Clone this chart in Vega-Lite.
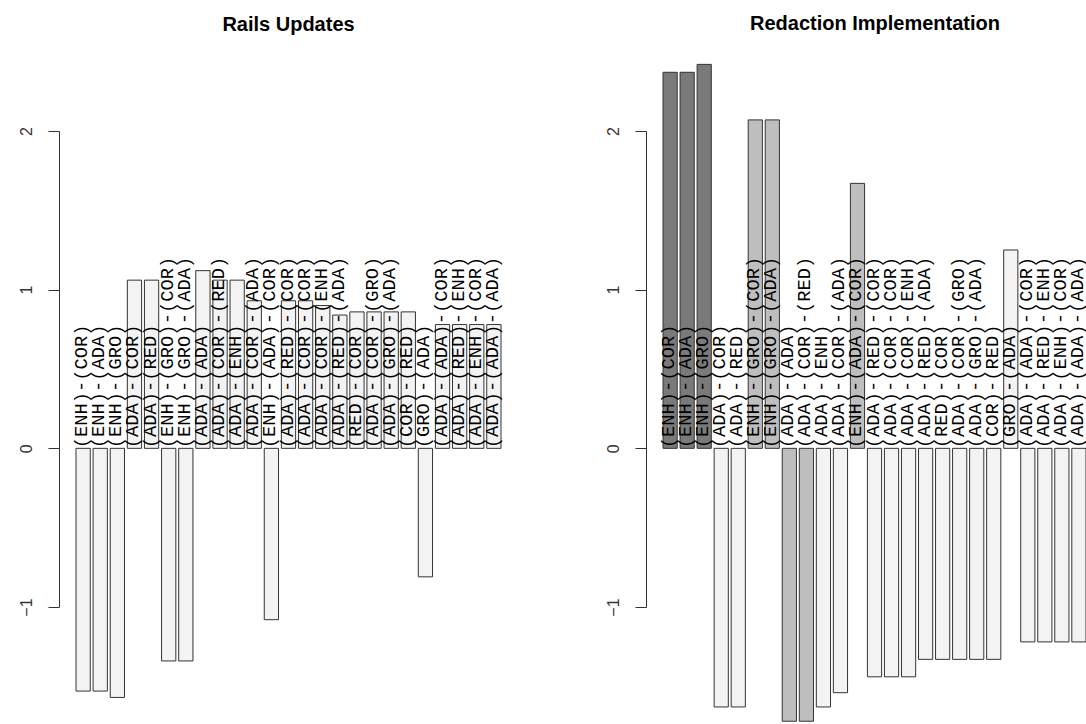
{
  "$schema": "https://vega.github.io/schema/vega-lite/v6.json",
  "background": "white",
  "padding": {"left": 18, "top": 13, "right": 0, "bottom": 0},
  "datasets": {
    "rows": [
      {"panel": "Rails Updates", "pattern": "(ENH)-(COR)", "value": -1.53, "level": "low"},
      {"panel": "Rails Updates", "pattern": "(ENH)-(ADA)", "value": -1.53, "level": "low"},
      {"panel": "Rails Updates", "pattern": "(ENH)-(GRO)", "value": -1.57, "level": "low"},
      {"panel": "Rails Updates", "pattern": "(ADA)-(COR)", "value": 1.06, "level": "low"},
      {"panel": "Rails Updates", "pattern": "(ADA)-(RED)", "value": 1.06, "level": "low"},
      {"panel": "Rails Updates", "pattern": "(ENH)-(GRO)-(COR)", "value": -1.34, "level": "low"},
      {"panel": "Rails Updates", "pattern": "(ENH)-(GRO)-(ADA)", "value": -1.34, "level": "low"},
      {"panel": "Rails Updates", "pattern": "(ADA)-(ADA)", "value": 1.12, "level": "low"},
      {"panel": "Rails Updates", "pattern": "(ADA)-(COR)-(RED)", "value": 1.06, "level": "low"},
      {"panel": "Rails Updates", "pattern": "(ADA)-(ENH)", "value": 1.06, "level": "low"},
      {"panel": "Rails Updates", "pattern": "(ADA)-(COR)-(ADA)", "value": 0.93, "level": "low"},
      {"panel": "Rails Updates", "pattern": "(ENH)-(ADA)-(COR)", "value": -1.08, "level": "low"},
      {"panel": "Rails Updates", "pattern": "(ADA)-(RED)-(COR)", "value": 0.93, "level": "low"},
      {"panel": "Rails Updates", "pattern": "(ADA)-(COR)-(COR)", "value": 0.93, "level": "low"},
      {"panel": "Rails Updates", "pattern": "(ADA)-(COR)-(ENH)", "value": 0.9, "level": "low"},
      {"panel": "Rails Updates", "pattern": "(ADA)-(RED)-(ADA)", "value": 0.84, "level": "low"},
      {"panel": "Rails Updates", "pattern": "(RED)-(COR)", "value": 0.86, "level": "low"},
      {"panel": "Rails Updates", "pattern": "(ADA)-(COR)-(GRO)", "value": 0.86, "level": "low"},
      {"panel": "Rails Updates", "pattern": "(ADA)-(GRO)-(ADA)", "value": 0.86, "level": "low"},
      {"panel": "Rails Updates", "pattern": "(COR)-(RED)", "value": 0.86, "level": "low"},
      {"panel": "Rails Updates", "pattern": "(GRO)-(ADA)", "value": -0.81, "level": "low"},
      {"panel": "Rails Updates", "pattern": "(ADA)-(ADA)-(COR)", "value": 0.78, "level": "low"},
      {"panel": "Rails Updates", "pattern": "(ADA)-(RED)-(ENH)", "value": 0.78, "level": "low"},
      {"panel": "Rails Updates", "pattern": "(ADA)-(ENH)-(COR)", "value": 0.78, "level": "low"},
      {"panel": "Rails Updates", "pattern": "(ADA)-(ADA)-(ADA)", "value": 0.78, "level": "low"},
      {"panel": "Redaction Implementation", "pattern": "(ENH)-(COR)", "value": 2.37, "level": "high"},
      {"panel": "Redaction Implementation", "pattern": "(ENH)-(ADA)", "value": 2.37, "level": "high"},
      {"panel": "Redaction Implementation", "pattern": "(ENH)-(GRO)", "value": 2.42, "level": "high"},
      {"panel": "Redaction Implementation", "pattern": "(ADA)-(COR)", "value": -1.63, "level": "low"},
      {"panel": "Redaction Implementation", "pattern": "(ADA)-(RED)", "value": -1.63, "level": "low"},
      {"panel": "Redaction Implementation", "pattern": "(ENH)-(GRO)-(COR)", "value": 2.07, "level": "medium"},
      {"panel": "Redaction Implementation", "pattern": "(ENH)-(GRO)-(ADA)", "value": 2.07, "level": "medium"},
      {"panel": "Redaction Implementation", "pattern": "(ADA)-(ADA)", "value": -1.72, "level": "medium"},
      {"panel": "Redaction Implementation", "pattern": "(ADA)-(COR)-(RED)", "value": -1.72, "level": "medium"},
      {"panel": "Redaction Implementation", "pattern": "(ADA)-(ENH)", "value": -1.63, "level": "low"},
      {"panel": "Redaction Implementation", "pattern": "(ADA)-(COR)-(ADA)", "value": -1.54, "level": "low"},
      {"panel": "Redaction Implementation", "pattern": "(ENH)-(ADA)-(COR)", "value": 1.67, "level": "medium"},
      {"panel": "Redaction Implementation", "pattern": "(ADA)-(RED)-(COR)", "value": -1.44, "level": "low"},
      {"panel": "Redaction Implementation", "pattern": "(ADA)-(COR)-(COR)", "value": -1.44, "level": "low"},
      {"panel": "Redaction Implementation", "pattern": "(ADA)-(COR)-(ENH)", "value": -1.44, "level": "low"},
      {"panel": "Redaction Implementation", "pattern": "(ADA)-(RED)-(ADA)", "value": -1.33, "level": "low"},
      {"panel": "Redaction Implementation", "pattern": "(RED)-(COR)", "value": -1.33, "level": "low"},
      {"panel": "Redaction Implementation", "pattern": "(ADA)-(COR)-(GRO)", "value": -1.33, "level": "low"},
      {"panel": "Redaction Implementation", "pattern": "(ADA)-(GRO)-(ADA)", "value": -1.33, "level": "low"},
      {"panel": "Redaction Implementation", "pattern": "(COR)-(RED)", "value": -1.33, "level": "low"},
      {"panel": "Redaction Implementation", "pattern": "(GRO)-(ADA)", "value": 1.25, "level": "low"},
      {"panel": "Redaction Implementation", "pattern": "(ADA)-(ADA)-(COR)", "value": -1.22, "level": "low"},
      {"panel": "Redaction Implementation", "pattern": "(ADA)-(RED)-(ENH)", "value": -1.22, "level": "low"},
      {"panel": "Redaction Implementation", "pattern": "(ADA)-(ENH)-(COR)", "value": -1.22, "level": "low"},
      {"panel": "Redaction Implementation", "pattern": "(ADA)-(ADA)-(ADA)", "value": -1.22, "level": "low"}
    ]
  },
  "data": {"name": "rows"},
  "config": {
    "view": {"stroke": null},
    "title": {"font": "Liberation Sans", "fontSize": 20, "fontWeight": "bold", "color": "#000000", "anchor": "middle"},
    "axis": {
      "domainColor": "#333333", "tickColor": "#333333", "labelColor": "#333333",
      "labelFont": "Liberation Sans", "labelFontSize": 16, "grid": false,
      "tickSize": 11, "labelPadding": 14, "labelAngle": 270,
      "labelAlign": "center", "labelBaseline": "bottom", "domainWidth": 1, "tickWidth": 1
    }
  },
  "bounds": "flush",
  "spacing": 128,
  "hconcat": [
    {
      "width": 459,
      "height": 476,
      "title": {"text": "Rails Updates", "offset": 92},
      "transform": [{"filter": "datum.panel === 'Rails Updates'"}],
      "layer": [
        {
          "mark": {"type": "bar", "stroke": "#333333", "strokeWidth": 1},
          "encoding": {
            "x": {"field": "pattern", "type": "nominal", "sort": null, "axis": null,
                  "scale": {"paddingInner": 0.1667, "paddingOuter": 0.993}},
            "y": {"field": "value", "type": "quantitative", "title": null,
                  "scale": {"domain": [-1, 2], "nice": false, "zero": false},
                  "axis": {"values": [-1, 0, 1, 2], "format": "d"}},
            "y2": {"datum": 0},
            "color": {"field": "level", "type": "nominal", "legend": null,
                      "scale": {"domain": ["high", "medium", "low"], "range": ["#7a7a7a", "#bebebe", "#f3f3f3"]}}
          }
        },
        {
          "mark": {"type": "text", "angle": 270, "align": "left", "baseline": "middle", "dy": -2,
                   "font": "Liberation Mono", "fontSize": 18.8, "color": "#000000"},
          "encoding": {
            "x": {"field": "pattern", "type": "nominal", "sort": null},
            "y": {"datum": 0},
            "text": {"field": "pattern"}
          }
        }
      ]
    },
    {
      "width": 440,
      "height": 476,
      "title": {"text": "Redaction Implementation", "dx": 9, "offset": 30},
      "transform": [{"filter": "datum.panel === 'Redaction Implementation'"}],
      "layer": [
        {
          "mark": {"type": "bar", "stroke": "#333333", "strokeWidth": 1},
          "encoding": {
            "x": {"field": "pattern", "type": "nominal", "sort": null, "axis": null,
                  "scale": {"paddingInner": 0.1667, "paddingOuter": 0.5, "align": 1}},
            "y": {"field": "value", "type": "quantitative", "title": null,
                  "scale": {"domain": [-1, 2], "nice": false, "zero": false},
                  "axis": {"values": [-1, 0, 1, 2], "format": "d"}},
            "y2": {"datum": 0},
            "color": {"field": "level", "type": "nominal", "legend": null,
                      "scale": {"domain": ["high", "medium", "low"], "range": ["#7a7a7a", "#bebebe", "#f3f3f3"]}}
          }
        },
        {
          "mark": {"type": "text", "angle": 270, "align": "left", "baseline": "middle", "dy": -2,
                   "font": "Liberation Mono", "fontSize": 18.8, "color": "#000000"},
          "encoding": {
            "x": {"field": "pattern", "type": "nominal", "sort": null},
            "y": {"datum": 0},
            "text": {"field": "pattern"}
          }
        }
      ]
    }
  ]
}
